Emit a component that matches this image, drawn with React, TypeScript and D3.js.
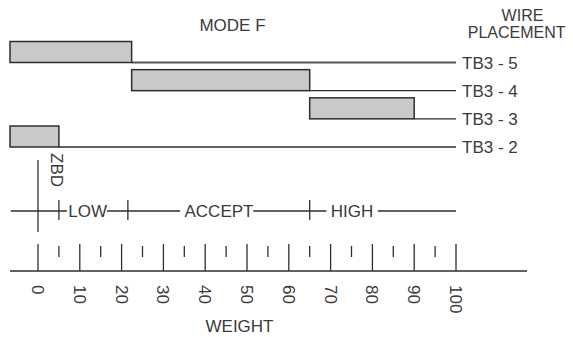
import React from "react";
import * as d3 from "d3";

const rows = ["TB3 - 5", "TB3 - 4", "TB3 - 3", "TB3 - 2"];
const barStart = [-6.7, 22.4, 65, -6.7];
const barEnd = [22.4, 65, 90, 5];
const lineEnd = 100;
const majorTicks = [0, 10, 20, 30, 40, 50, 60, 70, 80, 90, 100];
const minorTicks = [5, 15, 25, 35, 45, 55, 65, 75, 85, 95];
const zoneLabels = ["LOW", "ACCEPT", "HIGH"];
const zoneCenters = [11.9, 43.3, 75.1];
const zoneTicks = [5, 21.5, 65];
const zoneSegments: [number, number][] = [
  [-6.5, 6.9],
  [16.5, 34],
  [51.5, 69],
  [81.3, 100],
];
const zbdValue = 0;

const W = 573;
const H = 337;
const FONT = "'Liberation Sans', Arial, sans-serif";
const TEXT = "#3a3a3a";
const LINE = "#2e2e2e";

export default function App() {
  const x = d3.scaleLinear().domain([0, 100]).range([38, 456]);
  const y = d3.scalePoint<string>().domain(rows).range([62.5, 147]);
  const barH = 21;
  const axisY = 271;
  const zoneY = 211;

  return (
    <svg
      width={W}
      height={H}
      style={{ position: "absolute", left: 0, top: 0, background: "#fff" }}
      fontFamily={FONT}
    >
      <text x={232.5} y={31} fontSize={17} fill={TEXT} textAnchor="middle">
        MODE F
      </text>
      <text x={522.5} y={21} fontSize={16} fill={TEXT} textAnchor="middle">
        WIRE
      </text>
      <text x={516.7} y={37.5} fontSize={16} fill={TEXT} textAnchor="middle">
        PLACEMENT
      </text>

      {rows.map((r, i) => {
        const yy = y(r)!;
        return (
          <g key={r}>
            <line
              x1={x(barEnd[i])}
              x2={x(lineEnd)}
              y1={yy}
              y2={yy}
              stroke={i === 0 ? "#555" : LINE}
              strokeWidth={i === 0 ? 2 : 1.3}
            />
            <rect
              x={x(barStart[i])}
              y={yy - barH}
              width={x(barEnd[i]) - x(barStart[i])}
              height={barH}
              fill="#c9c9c9"
              stroke={LINE}
              strokeWidth={1.5}
            />
            <text
              x={462}
              y={yy}
              dy="0.36em"
              fontSize={17}
              fill={TEXT}
            >
              {r}
            </text>
          </g>
        );
      })}

      {/* ZBD */}
      <line
        x1={x(zbdValue)}
        x2={x(zbdValue)}
        y1={160}
        y2={232}
        stroke={LINE}
        strokeWidth={1.3}
      />
      <text
        transform={`translate(${x(zbdValue) + 19},153) rotate(90)`}
        dy="0.35em"
        fontSize={17}
        fill={TEXT}
      >
        ZBD
      </text>

      {/* zones */}
      {zoneSegments.map((s, i) => (
        <line
          key={"seg" + i}
          x1={x(s[0])}
          x2={x(s[1])}
          y1={zoneY}
          y2={zoneY}
          stroke={LINE}
          strokeWidth={1.3}
        />
      ))}
      {zoneTicks.map((t, i) => (
        <line
          key={"zt" + i}
          x1={x(t)}
          x2={x(t)}
          y1={zoneY - 11}
          y2={zoneY + 9}
          stroke={LINE}
          strokeWidth={1.3}
        />
      ))}
      {zoneLabels.map((l, i) => (
        <text
          key={l}
          x={x(zoneCenters[i])}
          y={zoneY}
          dy="0.36em"
          textAnchor="middle"
          fontSize={17}
          fill={TEXT}
        >
          {l}
        </text>
      ))}

      {/* axis */}
      <line
        x1={x(-6.7)}
        x2={x(117)}
        y1={axisY}
        y2={axisY}
        stroke={LINE}
        strokeWidth={1.5}
      />
      {majorTicks.map((t) => (
        <line
          key={"M" + t}
          x1={x(t)}
          x2={x(t)}
          y1={244}
          y2={axisY}
          stroke={LINE}
          strokeWidth={1.3}
        />
      ))}
      {minorTicks.map((t) => (
        <line
          key={"m" + t}
          x1={x(t)}
          x2={x(t)}
          y1={246}
          y2={257}
          stroke={LINE}
          strokeWidth={1.3}
        />
      ))}
      {majorTicks.map((t) => (
        <text
          key={"L" + t}
          transform={`translate(${x(t)},285) rotate(90)`}
          dy="0.35em"
          fontSize={17}
          fill={TEXT}
        >
          {t}
        </text>
      ))}
      <text x={239.5} y={332} fontSize={17} fill={TEXT} textAnchor="middle">
        WEIGHT
      </text>
    </svg>
  );
}
